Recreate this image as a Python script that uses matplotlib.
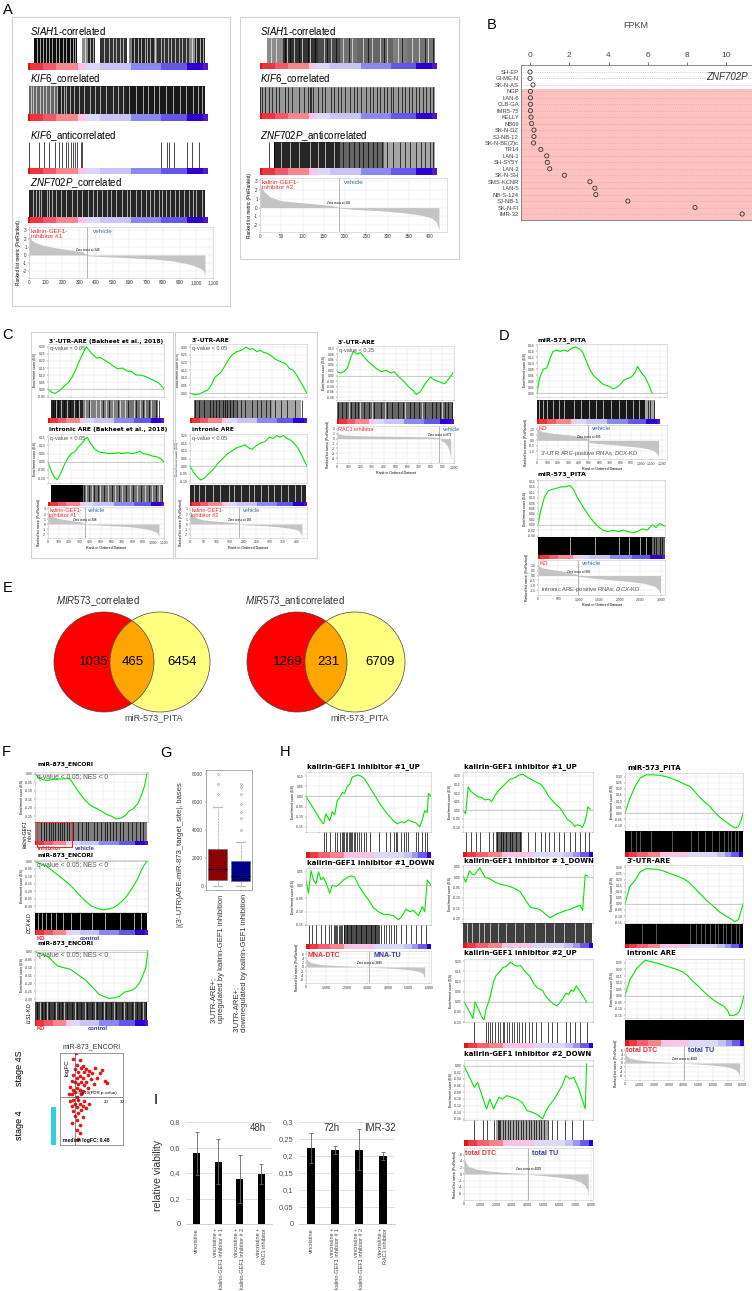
import numpy as np
import matplotlib.pyplot as plt
from matplotlib.patches import Rectangle, Circle

plt.rcParams['font.family'] = ['Liberation Sans', 'DejaVu Sans']
plt.rcParams['mathtext.fontset'] = 'custom'
plt.rcParams['mathtext.rm'] = 'Liberation Sans'
plt.rcParams['mathtext.it'] = 'Liberation Sans:italic'
plt.rcParams['axes.linewidth'] = 0.4

W, H = 752, 1291

################################################################################
# DATA
################################################################################
# GSEA colour ranking bar (block colours, block widths in % of the list)
GSEA_COLORS = ['#DC1414', '#EF343C', '#F35868', '#F7868E', '#FBC4E8', '#DCD8F8',
               '#C8C4F8', '#8C88F2', '#6656E8', '#2C00D2', '#5218C4']
GSEA_WIDTHS = [1.3, 7, 7.4, 12, 4.3, 7.8, 17.2, 17, 14.4, 9, 2.6]
H_COLORS = ['#DC1818', '#EF3A40', '#F36070', '#F7848C', '#FBC2E6', '#DCD8F8',
            '#C4C0F8', '#9A96F2', '#6A5AE8', '#2A00D0']
H_WIDTHS = [3.2, 6.7, 9.4, 10.7, 24, 24, 6.7, 5.3, 6.7, 3.3]

# B: ZNF702P expression
B_LINES = ['SH-EP', 'GI-ME-N', 'SK-N-AS', 'NGP', 'LAN-6', 'CLB-GA', 'IMR5-75', 'KELLY', 'NB69',
           'SK-N-DZ', 'SJ-NB-12', 'SK-N-BE(2)c', 'TR14', 'LAN-1', 'SH-SY5Y', 'LAN-2', 'SK-N-SH',
           'SMS-KCNR', 'LAN-5', 'NB-S-124', 'SJ-NB-1', 'SK-N-FI', 'IMR-32']
B_FPKM = [0.0, 0.0, 0.15, 0.02, 0.02, 0.02, 0.02, 0.05, 0.08, 0.2, 0.2, 0.18, 0.55, 0.85,
          0.88, 1.0, 1.75, 3.05, 3.3, 3.35, 4.98, 8.4, 10.8]

# barcodes: spans (start, end, darkness), white gaps, single black lines (% of list)
A1_SIAH1_SPANS = [(3, 27, 0.95), (30, 33, 0.45), (33, 37, 0.85), (40, 55, 0.8), (56, 58, 0.5),
                  (58, 70, 0.85), (70, 72, 0.5), (72, 90, 0.8), (90, 93, 0.45), (93, 99, 0.85)]
A1_SIAH1_GAPS = [4.5, 6, 8, 9.5, 11, 13, 15, 17, 19, 21, 23, 24.5, 26, 28.5, 31.5, 34, 36, 38.5,
                 42, 45, 47, 49, 51, 53, 55.5, 59, 61, 63, 65, 66.5, 68, 71, 74, 76, 78, 80,
                 82, 84, 86, 88, 91.5, 94, 96, 97.5]
A1_KIF6_SPANS = [(0, 16, 0.6), (16, 55, 0.85), (55, 99, 0.9)]
A1_KIF6_GAPS = [1, 2.5, 4, 6, 8, 9.5, 12, 14, 16, 18, 19.5, 21, 23, 25, 28, 31, 34, 37, 40, 43,
                47, 50, 53, 56, 60, 64, 67, 70, 73, 77, 81, 85, 88, 92, 95, 97]
A1_KIF6A_LINES = [0, 5.6, 8.4, 11, 14.4, 17, 18.5, 21, 22, 23.4, 24.7, 26, 27, 29.4, 30,
                  74, 77.7, 78.5, 81.5, 89, 91.5, 95.5]
A1_ZNF_SPANS = [(0, 99, 0.85)]
A1_ZNF_GAPS = [2, 4, 5.5, 7, 10, 11.5, 13, 15, 18, 21, 24, 27, 30, 33, 36, 38, 41, 44, 46, 49,
               52, 55, 57, 60, 63, 66, 68, 70, 73, 75, 77, 79, 82, 84, 87, 90, 92, 94, 97]
A2_SIAH1_SPANS = [(4, 13, 0.45), (13, 33, 0.8), (33, 45, 0.7), (45, 55, 0.55), (55, 75, 0.6),
                  (75, 83, 0.5), (83, 99, 0.55)]
A2_SIAH1_GAPS = [6, 9, 15, 19, 24, 28, 36, 40, 47, 52, 58, 63, 68, 72, 78, 86, 90, 95]
A2_SIAH1_LINES = [14, 17, 22, 27, 31, 38, 43, 50, 61, 70, 80, 93, 98]
A2_KIF6_SPANS = [(0, 99, 0.4)]
A2_KIF6_LINES = [0, 1, 3, 5, 7, 9, 10.5, 14, 16, 18, 22, 25, 27, 28, 29, 30, 33, 35, 37, 40,
                 42, 44, 46, 48, 51, 53, 55, 57, 60, 62, 64, 66, 68, 70, 72, 74, 75, 78, 80,
                 82, 84, 86, 88, 90, 92, 94, 96, 98]
A2_ZNF_SPANS = [(8, 45, 0.85), (45, 70, 0.6), (70, 99, 0.35)]
A2_ZNF_GAPS = [12, 17, 22, 28, 33, 37, 42]
A2_ZNF_LINES = [5, 8, 47, 50, 53, 56, 58, 61, 64, 66, 69, 72, 75, 79, 82, 85, 88, 91, 93, 96, 98]

C1_UTR_SPANS = [(3, 30, 0.85), (30, 70, 0.5), (70, 95, 0.55)]
C1_UTR_GAPS = [7, 11, 16, 22, 27, 32, 36, 41, 45, 50, 56, 62, 66, 74, 79, 84, 89]
C1_UTR_LINES = [4, 6, 9, 14, 19, 25, 35, 47, 53, 60, 69, 76, 82, 87, 93, 96]
C1_INT_SPANS = [(3, 30, 1.0), (30, 99, 0.55)]
C1_INT_GAPS = [33, 38, 45, 52, 58, 64, 71, 77, 84, 90, 96]
C1_INT_LINES = [31, 35, 40, 43, 48, 55, 61, 67, 73, 80, 87, 93, 98]
C2_UTR_SPANS = [(3, 40, 0.6), (40, 70, 0.45), (70, 95, 0.35)]
C2_UTR_LINES = [4, 8, 12, 17, 20, 22, 25, 28, 30, 32, 34, 37, 40, 44, 47, 53, 57, 61, 65, 68,
                73, 78, 83, 90, 96]
C2_INT_SPANS = [(0, 99, 0.85)]
C2_INT_GAPS = [3, 8, 13, 20, 26, 33, 38, 44, 50, 55, 61, 67, 72, 78, 84, 90, 95]
C3_SPANS = [(0, 99, 0.6)]
C3_GAPS = [10, 20, 30, 41, 58, 73, 90]
C3_LINES = [1, 4, 8, 12, 15, 18, 23, 27, 32, 38, 43, 47, 52, 56, 62, 66, 70, 75, 81, 85, 88,
            92, 95, 98]
D1_SPANS = [(0, 88, 0.9), (88, 96, 0.35)]
D1_GAPS = [2, 5, 8, 13, 18, 22, 30, 36, 42, 48, 54, 60, 67, 72, 78, 83]
D1_LINES = [90, 92, 95]
D2_SPANS = [(0, 90, 1.0), (90, 100, 0.6)]
D2_GAPS = [25, 45, 64, 72, 80, 85]
D2_LINES = [91, 93, 96, 98]
F1_SPANS = [(0, 99, 0.5)]
F1_LINES = [2, 5, 8, 10, 12, 14, 16, 18, 20, 22, 24, 26, 28, 30, 34, 38, 42, 45, 47, 52, 55,
            58, 62, 64, 66, 69, 72, 75, 78, 82, 86, 89, 93, 96]
F2_SPANS = [(0, 99, 1.0)]
F2_GAPS = [3, 6, 10, 14, 19, 25, 32, 40, 50, 62, 75, 88, 94]
F3_SPANS = [(0, 99, 0.75)]
F3_GAPS = [4, 11, 19, 26, 35, 44, 53, 61, 70, 79, 88, 96]
F3_LINES = [2, 6, 9, 12, 17, 21, 24, 28, 33, 37, 41, 46, 50, 55, 59, 63, 67, 72, 77, 81, 86,
            90, 94, 98]
H1U_LINES = [14, 16, 19, 23, 25, 27, 28.5, 29.5, 30.5, 32, 33, 34, 35, 36, 37, 38, 39, 40.5,
             42, 44, 46, 48, 51, 58, 64, 67, 70, 72, 73, 76, 78, 80, 82, 88, 90, 93, 95, 97]
H1D_SPANS = [(30, 58, 0.7)]
H1D_LINES = [2, 5, 8, 12, 15, 18, 20, 22, 23, 24, 25, 26, 27, 28, 29, 30, 33, 36, 40, 44, 48,
             52, 55, 58, 60, 62, 64, 66, 68, 70, 72, 76, 80, 84, 88, 92, 96]
H2U1_SPANS = [(25, 45, 0.6)]
H2U1_LINES = [2, 6, 10, 13, 20, 23, 26, 29, 31, 33, 36, 38, 41, 44, 50, 55, 60, 63, 66, 70,
              74, 78, 82, 86, 90, 94, 97]
H2D1_SPANS = [(0, 99, 0.75)]
H2D1_GAPS = [3, 7, 12, 16, 21, 27, 33, 40, 47, 55, 63, 70, 78, 86, 93]
H2U2_LINES = [8, 17, 18.5, 20, 22, 24, 26, 28, 30, 31, 33, 35, 37, 39, 41, 43, 45, 47, 50, 53,
              56, 60, 65, 68, 72, 79, 82, 86, 90, 95]
H2D2_SPANS = [(25, 65, 0.35)]
H2D2_LINES = [8, 15, 18, 23, 26, 27, 28, 30, 32, 34, 36, 38, 40, 42, 44, 46, 48, 50, 52, 54,
              56, 58, 60, 62, 65, 68, 72, 78, 84, 92]
H3_SPANS = [(0, 100, 1.0)]
H3P_GAPS = [5, 9, 13, 22, 40, 56, 62, 68, 74, 80, 84, 87, 90, 93, 96]
H3U_GAPS = [14, 26, 55, 60, 64, 68, 72, 76, 79, 83, 86, 90, 94, 97]

# running enrichment scores (% of list, ES)
C1_UTR_ES = [(0, 0.0), (3, -0.02), (6, -0.03), (9, -0.015), (12, 0.005), (15, 0.03), (18, 0.05),
             (21, 0.09), (24, 0.14), (27, 0.2), (30, 0.25), (33, 0.3), (35, 0.28), (38, 0.25),
             (42, 0.22), (45, 0.225), (48, 0.21), (52, 0.19), (56, 0.165), (60, 0.145),
             (64, 0.15), (68, 0.13), (72, 0.125), (76, 0.1), (80, 0.1), (84, 0.09), (88, 0.075),
             (92, 0.06), (96, 0.04), (100, 0.0)]
C1_INT_ES = [(0, 0.0), (3, -0.06), (6, -0.1), (8, -0.11), (11, -0.07), (14, -0.02), (17, 0.02),
             (20, 0.05), (23, 0.06), (26, 0.09), (29, 0.11), (32, 0.14), (34, 0.15), (36, 0.12),
             (40, 0.08), (44, 0.06), (48, 0.055), (52, 0.05), (56, 0.05), (60, 0.055),
             (64, 0.05), (68, 0.055), (72, 0.05), (76, 0.055), (79, 0.065), (82, 0.05),
             (86, 0.045), (90, 0.035), (94, 0.03), (97, 0.02), (100, 0.0)]
C2_UTR_ES = [(0, 0.0), (4, -0.01), (8, -0.005), (12, 0.01), (15, 0.02), (18, 0.05), (21, 0.1),
             (24, 0.12), (27, 0.14), (30, 0.18), (33, 0.22), (36, 0.25), (40, 0.27), (44, 0.28),
             (48, 0.3), (51, 0.285), (54, 0.29), (57, 0.27), (60, 0.28), (63, 0.265),
             (66, 0.26), (70, 0.24), (73, 0.22), (76, 0.21), (79, 0.2), (82, 0.19), (85, 0.16),
             (88, 0.15), (91, 0.12), (94, 0.08), (97, 0.04), (100, 0.0)]
C2_INT_ES = [(0, 0.0), (3, -0.04), (6, -0.07), (9, -0.09), (12, -0.08), (16, -0.05), (20, -0.02),
             (24, 0.02), (28, 0.05), (32, 0.08), (36, 0.1), (40, 0.12), (44, 0.13), (47, 0.14),
             (50, 0.12), (53, 0.11), (56, 0.13), (60, 0.15), (64, 0.16), (68, 0.19), (71, 0.18),
             (74, 0.2), (77, 0.19), (80, 0.2), (83, 0.18), (86, 0.17), (89, 0.15), (92, 0.12),
             (95, 0.08), (98, 0.03), (100, 0.0)]
C3_ES = [(0, 0.015), (3, 0.01), (6, 0.015), (9, 0.03), (12, 0.07), (14, 0.09), (17, 0.08),
         (20, 0.085), (23, 0.07), (26, 0.055), (30, 0.04), (34, 0.025), (38, 0.015), (42, 0.02),
         (46, 0.01), (49, 0.015), (53, -0.005), (57, -0.02), (61, -0.04), (65, -0.055),
         (68, -0.07), (71, -0.06), (74, -0.04), (77, -0.02), (80, -0.005), (83, -0.015),
         (86, -0.02), (89, -0.025), (92, -0.03), (95, -0.015), (99, 0.01)]
D1_ES = [(0, 0.0), (2, 0.05), (5, 0.08), (8, 0.085), (11, 0.12), (13, 0.14), (16, 0.145),
         (19, 0.14), (22, 0.145), (25, 0.14), (28, 0.15), (31, 0.155), (34, 0.15), (37, 0.14),
         (40, 0.11), (43, 0.08), (46, 0.06), (50, 0.045), (54, 0.03), (58, 0.025), (62, 0.015),
         (65, 0.02), (68, 0.03), (71, 0.045), (74, 0.05), (77, 0.055), (80, 0.07), (82, 0.09),
         (85, 0.07), (88, 0.055), (91, 0.03), (94, 0.0)]
D2_ES = [(0, 0.0), (2, 0.05), (5, 0.1), (8, 0.125), (11, 0.13), (15, 0.135), (19, 0.14),
         (22, 0.14), (25, 0.145), (28, 0.13), (31, 0.1), (35, 0.07), (39, 0.04), (43, 0.015),
         (47, -0.005), (51, -0.02), (55, -0.025), (59, -0.02), (63, -0.025), (67, -0.02),
         (71, -0.025), (75, -0.03), (78, -0.025), (82, -0.015), (86, -0.02), (90, 0.0),
         (93, -0.01), (96, 0.005), (100, -0.005)]
F1_ES = [(0, 0.0), (3, -0.02), (7, -0.035), (11, -0.04), (15, -0.035), (20, -0.032), (25, -0.03),
         (30, -0.028), (32, -0.04), (36, -0.08), (40, -0.12), (45, -0.16), (50, -0.19),
         (55, -0.205), (60, -0.225), (64, -0.24), (68, -0.25), (72, -0.265), (76, -0.26),
         (80, -0.245), (83, -0.22), (87, -0.205), (91, -0.175), (94, -0.13), (97, -0.07),
         (99, 0.0)]
F2_ES = [(0, 0.0), (5, -0.015), (10, -0.03), (15, -0.06), (20, -0.09), (25, -0.12), (30, -0.15),
         (35, -0.19), (40, -0.23), (45, -0.27), (50, -0.3), (55, -0.315), (60, -0.325),
         (65, -0.32), (70, -0.31), (75, -0.28), (80, -0.245), (85, -0.19), (90, -0.13),
         (94, -0.06), (97, -0.02), (99, 0.0)]
F3_ES = [(0, 0.0), (4, -0.01), (8, -0.02), (13, -0.04), (17, -0.07), (20, -0.09), (25, -0.1),
         (31, -0.11), (35, -0.13), (40, -0.155), (45, -0.18), (49, -0.21), (53, -0.24),
         (57, -0.27), (62, -0.285), (66, -0.295), (70, -0.29), (75, -0.28), (79, -0.255),
         (82, -0.25), (87, -0.24), (90, -0.22), (93, -0.19), (96, -0.14), (98, -0.1), (100, 0.01)]
H1_UP_ES = [(0, 0.0), (4, -0.04), (8, -0.08), (12, -0.12), (14, -0.135), (16, -0.085),
            (18, -0.11), (19, -0.12), (21, -0.075), (23, -0.09), (25, -0.02), (27, -0.005),
            (29, 0.02), (31, 0.015), (33, 0.05), (35, 0.06), (37, 0.095), (39, 0.1), (41, 0.105),
            (44, 0.1), (47, 0.085), (51, 0.045), (55, 0.005), (59, -0.035), (63, -0.07),
            (67, -0.1), (70, -0.12), (73, -0.135), (76, -0.125), (79, -0.13), (82, -0.115),
            (85, -0.125), (88, -0.13), (91, -0.15), (93, -0.115), (95, -0.07), (97, -0.08),
            (98, 0.015), (100, 0.0)]
H1_DN_ES = [(0, 0.02), (2, -0.03), (4, 0.055), (6, 0.02), (8, 0.005), (10, 0.05), (12, 0.02),
            (14, 0.03), (16, 0.01), (19, -0.03), (21, 0.0), (24, -0.005), (27, 0.005),
            (30, 0.02), (33, 0.03), (36, 0.035), (39, 0.03), (42, 0.0), (46, -0.03),
            (50, -0.055), (54, -0.085), (58, -0.1), (62, -0.11), (66, -0.11), (70, -0.115),
            (74, -0.13), (77, -0.115), (80, -0.09), (83, -0.1), (86, -0.095), (90, -0.115),
            (93, -0.08), (95, -0.1), (97, 0.02), (100, 0.0)]
H2_UP1_ES = [(0, 0.0), (2, -0.02), (4, 0.135), (6, 0.11), (8, 0.1), (11, 0.08), (14, 0.075),
             (17, 0.06), (20, 0.065), (22, 0.05), (25, 0.09), (28, 0.12), (32, 0.15), (36, 0.18),
             (40, 0.19), (43, 0.205), (46, 0.21), (50, 0.19), (55, 0.17), (60, 0.15), (63, 0.12),
             (66, 0.08), (70, 0.045), (75, 0.01), (80, -0.05), (84, -0.075), (86, -0.095),
             (88, -0.085), (90, -0.09), (92, -0.1), (94, -0.06), (95, -0.03), (96, 0.02),
             (98, 0.005)]
H2_DN1_ES = [(0, 0.005), (2, -0.025), (5, 0.03), (7, 0.015), (9, 0.01), (11, 0.03), (13, 0.045),
             (15, 0.02), (17, 0.0), (21, -0.01), (25, -0.025), (29, -0.035), (33, -0.04),
             (36, -0.045), (40, -0.055), (44, -0.07), (48, -0.11), (52, -0.145), (56, -0.15),
             (59, -0.155), (63, -0.175), (67, -0.195), (71, -0.18), (75, -0.17), (79, -0.16),
             (82, -0.155), (86, -0.145), (90, -0.135), (92, -0.16), (94, 0.01), (96, 0.005)]
H2_UP2_ES = [(0, 0.0), (7, -0.083), (8.5, 0.0), (14, -0.078), (15.5, -0.09), (17, -0.04),
             (20, 0.017), (23, 0.1), (25, 0.13), (28, 0.15), (30, 0.167), (33, 0.175),
             (36, 0.195), (39, 0.18), (41, 0.175), (44, 0.178), (47, 0.15), (51, 0.125),
             (54, 0.09), (57, 0.067), (61, 0.055), (63, 0.03), (66, 0.008), (69, -0.01),
             (72, -0.02), (74, -0.008), (77, 0.02), (79, 0.042), (81, 0.035), (83, 0.058),
             (85, 0.05), (87, 0.078), (90, 0.05), (95, 0.0)]
H2_DN2_ES = [(0, 0.0), (8, -0.065), (10.5, -0.05), (14, -0.09), (17.5, -0.13), (20, -0.1),
             (23, -0.13), (27, -0.095), (30, -0.1), (33, -0.09), (37, -0.095), (41, -0.1),
             (45, -0.11), (49, -0.135), (53, -0.14), (56, -0.145), (58, -0.15), (61, -0.16),
             (63, -0.14), (66, -0.12), (70, -0.1), (73, -0.08), (76, -0.06), (79, -0.03),
             (82, -0.04), (85, -0.035), (89, -0.07), (94, -0.13), (95, 0.005)]
H3_PITA_ES = [(0, 0.0), (4, 0.12), (8.5, 0.22), (13, 0.29), (18, 0.315), (24, 0.315), (30, 0.31),
              (35, 0.3), (41, 0.28), (46, 0.26), (50, 0.24), (55, 0.22), (59, 0.18), (63, 0.135),
              (67, 0.095), (72, 0.055), (76, 0.01), (80, -0.03), (85, -0.065), (89, -0.095),
              (93, -0.12), (96, -0.11), (98.5, -0.055), (100, 0.0)]
H3_UTR_ES = [(0, 0.0), (4, 0.14), (8.5, 0.195), (13, 0.265), (18, 0.29), (27, 0.285), (33, 0.27),
             (38, 0.25), (44, 0.23), (49, 0.21), (54, 0.18), (58, 0.14), (63, 0.09), (69, 0.03),
             (75, -0.02), (80, -0.065), (85, -0.095), (89, -0.12), (93, -0.145), (96, -0.13),
             (98, -0.07), (100, 0.0)]
H3_INT_ES = [(0, 0.0), (4, 0.12), (10, 0.21), (17, 0.27), (24, 0.255), (30, 0.24), (35, 0.225),
             (42, 0.205), (49, 0.18), (53, 0.15), (57, 0.11), (62, 0.07), (66, 0.033), (70, 0.0),
             (74, -0.03), (79, -0.06), (83, -0.08), (86, -0.11), (88, -0.15), (91, -0.15),
             (94, -0.14), (96, -0.12), (98, -0.07), (100, 0.0)]

# ranked list metrics (rank, metric)
RANK_1050 = [(0, 3.0), (5, 2.2), (15, 1.8), (40, 1.5), (80, 1.2), (150, 0.9), (250, 0.6),
             (320, 0.4), (345, 0.05), (350, -0.1), (450, -0.2), (600, -0.35), (750, -0.5),
             (850, -0.7), (930, -1.0), (990, -1.3), (1030, -1.7), (1045, -2.0), (1052, -2.6)]
RANK_420 = [(0, 3.0), (3, 2.3), (10, 1.8), (25, 1.2), (50, 0.8), (100, 0.55), (150, 0.35),
            (180, 0.15), (185, -0.05), (220, -0.2), (280, -0.35), (330, -0.55), (370, -0.8),
            (400, -1.1), (412, -1.5), (418, -2.0), (421, -2.6)]
RANK_RAC1 = [(0, 1.8), (10, 1.0), (60, 0.75), (200, 0.6), (400, 0.5), (600, 0.45), (800, 0.35),
             (870, 0.2), (880, 0.0), (885, -0.3), (920, -0.8), (945, -1.5), (960, -2.5),
             (968, -3.5), (972, -4.6)]
RANK_D1 = [(0, 1.2), (10, 1.0), (50, 0.8), (150, 0.65), (300, 0.5), (420, 0.35), (480, 0.2),
           (495, 0.0), (500, -0.2), (600, -0.3), (750, -0.4), (900, -0.55), (1000, -0.65),
           (1080, -0.8), (1130, -1.0), (1160, -1.3), (1170, -1.6)]
RANK_D2 = [(0, 1.4), (20, 1.0), (100, 0.8), (300, 0.65), (600, 0.45), (900, 0.2), (980, 0.05),
           (1000, -0.1), (1300, -0.25), (1700, -0.4), (2200, -0.6), (2600, -0.8), (2850, -1.1),
           (2950, -1.5), (2990, -1.9)]
RANK_MNA = [(0, 6.0), (20, 4.0), (80, 3.0), (250, 2.0), (700, 1.2), (1500, 0.7), (2500, 0.3),
            (3000, 0.1), (3095, 0.0), (3200, -0.15), (3800, -0.4), (4500, -0.8), (5100, -1.3),
            (5500, -2.0), (5700, -3.0), (5760, -4.5), (5790, -6.5)]
RANK_TOTAL = [(0, 7.0), (30, 5.0), (100, 3.5), (300, 2.3), (800, 1.5), (1600, 0.9), (2600, 0.5),
              (3500, 0.2), (4029, 0.0), (4100, -0.15), (5000, -0.5), (6000, -1.0), (6800, -1.6),
              (7300, -2.4), (7600, -3.5), (7750, -5.0), (7800, -7.0)]

# E: Venn counts (only set 1, overlap, only set 2)
VENN_COR = [1035, 465, 6454]
VENN_ANTI = [1269, 231, 6709]

# F: volcano-like scatter (-log10 FDR, logFC)
F_SCATTER = [(-4, 0.2), (-3, 0.7), (-3, -0.3), (-2, 1.1), (-2, 0.2), (-2, -0.6), (-1, 1.5),
             (-1, 0.5), (-1, -0.2), (-1, -1.0), (0, 1.9), (0, 1.0), (0, 0.3), (0, -0.5),
             (0, -1.3), (1, 2.2), (1, 1.3), (1, 0.6), (1, 0.0), (1, -0.7), (1, -1.6), (2, 1.7),
             (2, 0.9), (2, -0.2), (2, -1.1), (3, 2.5), (3, 1.4), (3, 0.5), (3, -0.5), (3, -1.9),
             (4, 2.0), (4, 1.0), (4, 0.2), (4, -0.9), (5, 2.1), (5, 1.3), (5, 0.4), (5, -0.6),
             (5, -1.4), (6, 1.7), (6, 0.8), (6, -0.3), (7, 1.9), (7, 1.0), (7, -0.8), (8, 1.5),
             (8, 0.6), (9, 1.8), (9, -0.5), (10, 1.2), (11, 1.6), (12, 0.9), (13, 2.0),
             (14, 1.3), (16, 1.6), (17, 1.85), (19, 1.1), (20.6, 0.96), (3, -2.5), (1, -2.3),
             (-1, 2.6), (0.5, 3.0), (2, -2.9), (-2, -1.8)]

# G: box plot statistics (bases)
G_LABELS = ["3'UTR-ARE+;\nupregulated by kalirin-GEF1 inhibition",
            "3'UTR-ARE+;\ndownregulated by kalirin-GEF1 inhibition"]
G_MED = [1200, 710]
G_Q1 = [430, 380]
G_Q3 = [2640, 1780]
G_LOW = [0, 0]
G_HIGH = [5640, 3140]
G_FLIERS = [[6550, 7300, 8000], [4000, 4850, 5250, 5850, 6600, 7100, 7250]]
G_COLORS = ['#8B0000', '#00008B']

# I: relative viability
I_LABELS = ['vincristine', 'vincristine +\nkalirin-GEF1 inhibitor # 1',
            'vincristine +\nkalirin-GEF1 inhibitor # 2', 'vincristine +\nRAC1 inhibitor']
I_48H = [0.555, 0.49, 0.355, 0.39]
I_48H_ERR = [0.17, 0.178, 0.19, 0.08]
I_72H = [0.224, 0.218, 0.219, 0.2]
I_72H_ERR = [0.045, 0.012, 0.06, 0.011]

RED = '#E8312F'
BLUE = '#3A6FA8'
NAVY = '#2E3A9E'

################################################################################
# HELPERS
################################################################################
fig = plt.figure(figsize=(W / 100, H / 100), dpi=100)


def axes_px(x0, y0, x1, y1):
    return fig.add_axes([x0 / W, 1 - y1 / H, (x1 - x0) / W, (y1 - y0) / H])


def text_px(x, y, s, **kw):
    kw.setdefault('va', 'center')
    kw.setdefault('ha', 'left')
    fig.text(x / W, 1 - y / H, s, **kw)


def frame_px(x0, y0, x1, y1, color='#D2D2D2', lw=0.8):
    fig.patches.append(Rectangle((x0 / W, 1 - y1 / H), (x1 - x0) / W, (y1 - y0) / H,
                                 transform=fig.transFigure, fill=False, ec=color, lw=lw))


def gsea_title(x, y, s, size=4.6):
    text_px(x, y, s, fontsize=size, fontweight='bold', family='DejaVu Sans')


def es_panel(rect, curve, ylim, yticks, xmax=100, note=None, note_size=4.5):
    ax = axes_px(*rect)
    xs, ys = zip(*curve)
    ax.plot(xs, ys, color='#00E800', lw=0.8)
    ax.axhline(0, color='#AAAAAA', lw=0.4)
    ax.set_xlim(0, xmax)
    ax.set_ylim(*ylim)
    ax.set_yticks(yticks)
    ax.set_yticklabels(['{:.2f}'.format(t) for t in yticks])
    ax.set_xticks(range(0, 101, 10))
    ax.tick_params(labelbottom=False, labelsize=2.4, length=0.8, width=0.3, pad=0.8,
                   colors='#333333')
    ax.grid(color='#E6E6E6', lw=0.35)
    ax.set_axisbelow(True)
    for sp in ax.spines.values():
        sp.set_color('#C8C8C8')
        sp.set_linewidth(0.4)
    ax.set_ylabel('Enrichment score (ES)', fontsize=2.4, labelpad=1)
    if note:
        ax.text(0.02, 0.96, note, transform=ax.transAxes, fontsize=note_size, va='top',
                color='#555555')
    return ax


def barcode(rect, spans=(), gaps=(), lines=(), gap_color='white'):
    ax = axes_px(*rect)
    for a, b, shade in spans:
        ax.axvspan(a, b, color='black', alpha=shade, lw=0)
    if len(gaps):
        ax.vlines(gaps, 0, 1, color=gap_color, lw=0.45)
    if len(lines):
        ax.vlines(lines, 0, 1, color='black', lw=0.5)
    ax.set_xlim(0, 100)
    ax.set_ylim(0, 1)
    ax.axis('off')


def rank_bar(rect, colors=GSEA_COLORS, widths=GSEA_WIDTHS):
    ax = axes_px(*rect)
    left = np.cumsum([0] + list(widths[:-1]))
    ax.barh(0, widths, left=left, color=colors, height=1, lw=0)
    ax.set_xlim(0, sum(widths))
    ax.set_ylim(-0.5, 0.5)
    ax.axis('off')


def ranked_panel(rect, curve, xmax, xticks, ylim, yticks, zero, left, right, size=4.5,
                 bold=False, right_color=BLUE, xlabel=False, note=None, tick_size=2.6,
                 label_size=2.6, yfmt='{:g}'):
    ax = axes_px(*rect)
    xs, ys = zip(*curve)
    ax.fill_between(xs, ys, 0, color='#C4C4C4', lw=0)
    ax.axvline(zero, color='#999999', lw=0.5)
    ax.text(zero, 0.1 * ylim[1], 'Zero cross at {}'.format(zero), fontsize=2.2, ha='center',
            va='bottom')
    ax.set_xlim(0, xmax)
    ax.set_ylim(*ylim)
    ax.set_xticks(xticks)
    ax.set_xticklabels(['{:,}'.format(t) for t in xticks])
    ax.set_yticks(yticks)
    ax.set_yticklabels([yfmt.format(t) for t in yticks])
    ax.tick_params(labelsize=tick_size, length=0.8, width=0.3, pad=0.8, colors='#333333')
    ax.grid(color='#E6E6E6', lw=0.35)
    ax.set_axisbelow(True)
    for sp in ax.spines.values():
        sp.set_color('#C8C8C8')
        sp.set_linewidth(0.4)
    ax.set_ylabel('Ranked list metric (PreRanked)', fontsize=label_size, labelpad=1)
    wt = 'bold' if bold else 'normal'
    ax.text(0.01, 0.97, left, transform=ax.transAxes, fontsize=size, va='top', color=RED,
            fontweight=wt, linespacing=1.0)
    ax.text(zero + 0.03 * xmax, ylim[1] - 0.03 * (ylim[1] - ylim[0]), right, fontsize=size,
            va='top', color=right_color, fontweight=wt)
    if xlabel:
        ax.set_xlabel('Rank in Ordered Dataset', fontsize=2.6, labelpad=1)
    if note:
        ax.text(0.02, 0.04, note, transform=ax.transAxes, fontsize=4.2, va='bottom',
                color='#555555')
    return ax


################################################################################
# A
################################################################################
text_px(3, 10, 'A', fontsize=10.5)
frame_px(12, 17, 230, 306)
frame_px(240, 17, 459, 259)

text_px(30, 31, r'$\mathit{SIAH1}$-correlated', fontsize=7)
barcode((29, 38, 207, 63), A1_SIAH1_SPANS, A1_SIAH1_GAPS)
rank_bar((28, 63, 208, 70))
text_px(30, 79, r'$\mathit{KIF6}$_correlated', fontsize=7)
barcode((29, 86, 207, 114), A1_KIF6_SPANS, A1_KIF6_GAPS)
rank_bar((28, 114, 208, 121))
text_px(30, 136, r'$\mathit{KIF6}$_anticorrelated', fontsize=7)
barcode((29, 142, 207, 168), lines=A1_KIF6A_LINES)
rank_bar((28, 168, 208, 174))
text_px(30, 183, r'$\mathit{ZNF702P}$_correlated', fontsize=7)
barcode((29, 190, 207, 217), A1_ZNF_SPANS, A1_ZNF_GAPS)
rank_bar((28, 217, 208, 223))
ranked_panel((29, 227, 213, 278), RANK_1050, 1100, list(range(0, 1101, 100)), (-2.8, 3.4),
             [-2, -1, 0, 1, 2, 3], 348, 'kalirin-GEF1-\ninhibitor #1', 'vehicle', size=4.6,
             tick_size=3.3, label_size=3.3)

text_px(260, 31, r'$\mathit{SIAH1}$-correlated', fontsize=7)
barcode((260, 38, 437, 63), A2_SIAH1_SPANS, A2_SIAH1_GAPS, A2_SIAH1_LINES)
rank_bar((260, 63, 437, 69))
text_px(260, 79, r'$\mathit{KIF6}$_correlated', fontsize=7)
barcode((260, 87, 437, 113), A2_KIF6_SPANS, lines=A2_KIF6_LINES)
rank_bar((260, 113, 437, 119))
text_px(260, 136, r'$\mathit{ZNF702P}$_anticorrelated', fontsize=7)
barcode((260, 142, 437, 168), A2_ZNF_SPANS, A2_ZNF_GAPS, A2_ZNF_LINES)
rank_bar((260, 168, 437, 175))
ranked_panel((260, 178, 447, 232), RANK_420, 440, list(range(0, 401, 50)), (-2.8, 3.4),
             [-2, -1, 0, 1, 2, 3], 185, 'kalirin-GEF1-\ninhibitor #2', 'vehicle', size=4.6,
             tick_size=3.3, label_size=3.3)

################################################################################
# B
################################################################################
text_px(487, 25, 'B', fontsize=10.5)
text_px(636, 26, 'FPKM', fontsize=6.5, ha='center', color='#444444')
ax = axes_px(521, 65, 752, 220)
rows = np.arange(len(B_LINES))
ax.axhspan(2.6, 23.5, color='#FFC0C0', lw=0)
ax.hlines(rows, -1, 12, colors='#B0B0B0', linestyles=':', lw=0.5)
ax.scatter(B_FPKM, rows, s=9, facecolors='none', edgecolors='#333333', lw=0.6, zorder=3)
ax.set_xlim(-0.46, 11.3)
ax.set_ylim(22.93, -1.08)
ax.xaxis.tick_top()
ax.set_xticks([0, 2, 4, 6, 8, 10])
ax.set_yticks(rows)
ax.set_yticklabels(B_LINES)
ax.tick_params(axis='x', labelsize=6, colors='#444444', length=2.5, width=0.5, pad=2)
ax.tick_params(axis='y', labelsize=4.2, colors='#444444', length=0, pad=1.5)
for sp in ax.spines.values():
    sp.set_color('#777777')
    sp.set_linewidth(0.6)
ax.text(0.98, 0.92, 'ZNF702P', transform=ax.transAxes, fontsize=7, style='italic',
        ha='right', va='center', color='#333333')

################################################################################
# C
################################################################################
text_px(2, 335, 'C', fontsize=10.5)
frame_px(31, 332, 173, 558)
frame_px(175, 332, 317, 558)

gsea_title(49, 341, "3'-UTR-ARE (Bakheet et al., 2018)", 4.3)
es_panel((48, 344, 164, 397), C1_UTR_ES, (-0.055, 0.32),
         [-0.05, 0.0, 0.05, 0.1, 0.15, 0.2, 0.25, 0.3], note='q-value < 0.05', note_size=4)
barcode((48, 400, 164, 418), C1_UTR_SPANS, C1_UTR_GAPS, C1_UTR_LINES)
rank_bar((48, 418, 164, 423))
gsea_title(49, 430, "intronic ARE (Bakheet et al., 2018)", 4.3)
es_panel((48, 434, 164, 483), C1_INT_ES, (-0.13, 0.17), [-0.1, -0.05, 0.0, 0.05, 0.1, 0.15],
         note='q-value < 0.05', note_size=4)
barcode((48, 485, 164, 502), C1_INT_SPANS, C1_INT_GAPS, C1_INT_LINES)
rank_bar((48, 502, 164, 506))
ranked_panel((48, 507, 164, 538), RANK_1050, 1100, list(range(0, 1101, 100)), (-2.8, 3.4),
             [-2, -1, 0, 1, 2, 3], 348, 'kalirin-GEF1-\ninhibitor #1', 'vehicle', size=4,
             tick_size=2.4, label_size=2.4, xlabel=True)

gsea_title(192, 341, "3'-UTR-ARE", 4.3)
es_panel((190, 344, 307, 397), C2_UTR_ES, (-0.025, 0.32),
         [0.0, 0.05, 0.1, 0.15, 0.2, 0.25, 0.3], note='q-value < 0.05', note_size=4)
barcode((190, 400, 307, 418), C2_UTR_SPANS, lines=C2_UTR_LINES)
rank_bar((190, 418, 307, 423))
gsea_title(192, 430, 'intronic ARE', 4.3)
es_panel((190, 434, 307, 483), C2_INT_ES, (-0.11, 0.21),
         [-0.1, -0.05, 0.0, 0.05, 0.1, 0.15, 0.2], note='q-value < 0.05', note_size=4)
barcode((190, 485, 307, 502), C2_INT_SPANS, C2_INT_GAPS)
rank_bar((190, 502, 307, 506))
ranked_panel((190, 507, 307, 538), RANK_420, 440, list(range(0, 401, 50)), (-2.8, 3.4),
             [-2, -1, 0, 1, 2, 3], 185, 'kalirin-GEF1-\ninhibitor #2', 'vehicle', size=4,
             tick_size=2.4, label_size=2.4, xlabel=True)

gsea_title(338, 342, "3'-UTR-ARE", 4.3)
es_panel((337, 346, 454, 400), C3_ES, (-0.09, 0.11),
         [-0.08, -0.06, -0.04, -0.02, 0.0, 0.02, 0.04, 0.06, 0.08, 0.1],
         note='q-value < 0.25', note_size=4)
barcode((337, 402, 454, 419), C3_SPANS, C3_GAPS, C3_LINES)
rank_bar((337, 419, 454, 424))
ranked_panel((337, 426, 454, 463), RANK_RAC1, 1000, list(range(0, 1001, 100)), (-5.0, 2.6),
             [-4, -3, -2, -1, 0, 1, 2], 873, 'RAC1 inhibitor', 'vehicle', size=4,
             tick_size=2.4, label_size=2.4, xlabel=True)

################################################################################
# D
################################################################################
text_px(499, 336, 'D', fontsize=10.5)
gsea_title(538, 340, 'miR-573_PITA', 4.6)
es_panel((537, 344, 667, 397), D1_ES, (-0.012, 0.165),
         [0.0, 0.02, 0.04, 0.06, 0.08, 0.1, 0.12, 0.14, 0.16], xmax=106)
barcode((537, 400, 660, 419), D1_SPANS, D1_GAPS, D1_LINES)
rank_bar((537, 419, 660, 424))
ranked_panel((537, 425, 667, 459), RANK_D1, 1250, list(range(0, 1201, 100)), (-1.7, 1.4),
             [-1.0, -0.5, 0.0, 0.5, 1.0], 495, 'KD', 'vehicle', size=4.5, tick_size=2.4,
             label_size=2.4, xlabel=True, yfmt='{:.1f}',
             note=r"3'-UTR ARE-positive RNAs; $\mathit{DCX}$-KD")

gsea_title(538, 474, 'miR-573_PITA', 4.6)
es_panel((538, 480, 665, 537), D2_ES, (-0.045, 0.165),
         [-0.04, -0.02, 0.0, 0.02, 0.04, 0.06, 0.08, 0.1, 0.12, 0.14, 0.16])
barcode((538, 537, 665, 555), D2_SPANS, D2_GAPS, D2_LINES)
rank_bar((538, 555, 665, 559))
ranked_panel((538, 560, 665, 595), RANK_D2, 3100, list(range(0, 3001, 500)), (-2.0, 1.6),
             [-1.5, -1.0, -0.5, 0.0, 0.5, 1.0], 985, 'KD', 'vehicle', size=4.5, tick_size=2.4,
             label_size=2.4, xlabel=True, yfmt='{:.1f}',
             note=r"intronic ARE-positive RNAs; $\mathit{DCX}$-KD")

################################################################################
# E
################################################################################
text_px(3, 588, 'E', fontsize=10.5)
ax = axes_px(0, 595, 460, 725)
ax.set_xlim(0, 460)
ax.set_ylim(725, 595)
ax.axis('off')
venns = [((104, 160), VENN_COR, 'correlated', (94, 133, 182), 98, 154),
         ((297, 355), VENN_ANTI, 'anticorrelated', (288, 328, 380), 295, 360)]
for (cx_red, cx_yel), counts, title, lab_x, title_x, pita_x in venns:
    red = Circle((cx_red, 662), 50, fc='#FF0000', ec='none')
    yel = Circle((cx_yel, 662), 50, fc='#FFFF80', ec='none')
    ax.add_patch(red)
    ax.add_patch(yel)
    inter = Circle((cx_red, 662), 50, fc='#FFA500', ec='none')
    ax.add_patch(inter)
    inter.set_clip_path(yel)
    ax.add_patch(Circle((cx_red, 662), 50, fill=False, ec='#444444', lw=0.5))
    ax.add_patch(Circle((cx_yel, 662), 50, fill=False, ec='#444444', lw=0.5))
    for x, n in zip(lab_x, counts):
        ax.text(x, 662, str(n), fontsize=9.5, ha='center', va='center')
    text_px(title_x, 601, r'$\mathit{MIR573}$_' + title, fontsize=7, ha='center',
            color='#333333')
    text_px(pita_x, 718, 'miR-573_PITA', fontsize=6.5, ha='center', color='#444444')

################################################################################
# F
################################################################################
text_px(2, 752, 'F', fontsize=10.5)
note_f = 'q-value < 0.05; NES < 0'
gsea_title(37, 764, 'miR-873_ENCORI', 4.3)
es_panel((35, 772, 148, 822), F1_ES, (-0.283, 0.01), [-0.25, -0.2, -0.15, -0.1, -0.05, 0.0],
         note=note_f, note_size=4.8)
barcode((35, 822, 148, 841), F1_SPANS, lines=F1_LINES)
rank_bar((35, 841, 148, 845))
frame_px(37, 822, 72, 847, color='#E03030', lw=0.8)
text_px(38, 849, 'inhibitor', fontsize=4.2, color=RED, fontweight='bold')
text_px(75, 849, 'vehicle', fontsize=4.2, color=NAVY, fontweight='bold')
text_px(28, 834, 'kalirin-GEF1\ninh.#1', fontsize=3.6, rotation=90, ha='center',
        style='italic', linespacing=1.0)

gsea_title(37, 855, 'miR-873_ENCORI', 4.3)
es_panel((35, 860, 148, 912), F2_ES, (-0.34, 0.01),
         [-0.3, -0.25, -0.2, -0.15, -0.1, -0.05, 0.0], note=note_f, note_size=4.8)
barcode((35, 913, 148, 930), F2_SPANS, F2_GAPS)
rank_bar((35, 930, 148, 935))
text_px(37, 938, 'KD', fontsize=4.2, color=RED, fontweight='bold')
text_px(80, 938, 'control', fontsize=4.2, color=NAVY, fontweight='bold')
text_px(29, 923, r'$\mathit{DCX}$-KD', fontsize=3.8, rotation=90, ha='center')

gsea_title(37, 943, 'miR-873_ENCORI', 4.3)
es_panel((35, 950, 148, 1001), F3_ES, (-0.31, 0.01),
         [-0.3, -0.25, -0.2, -0.15, -0.1, -0.05, 0.0], note=note_f, note_size=4.8)
barcode((35, 1002, 148, 1020), F3_SPANS, F3_GAPS, F3_LINES)
rank_bar((35, 1020, 148, 1026))
text_px(37, 1029, 'KD', fontsize=4.2, color=RED, fontweight='bold')
text_px(88, 1029, 'control', fontsize=4.2, color=NAVY, fontweight='bold')
text_px(29, 1013, r'$\mathit{LIS1}$-KD', fontsize=3.8, rotation=90, ha='center')

text_px(92, 1047, 'miR-873_ENCORI', fontsize=5, ha='center', color='#333333')
ax = axes_px(60, 1053, 123, 1145)
sx, sy = zip(*F_SCATTER)
ax.scatter(sx, sy, s=7, color='#E00000', lw=0, alpha=0.9)
ax.axhline(0, color='#333333', lw=0.4)
ax.axvline(0, color='#333333', lw=0.4)
ax.set_xlim(-9.5, 30.5)
ax.set_ylim(-3.3, 3.0)
ax.set_xticks([])
ax.set_yticks([])
for sp in ax.spines.values():
    sp.set_color('#888888')
    sp.set_linewidth(0.6)
for t in [20, 30]:
    ax.text(t, -0.2, str(t), fontsize=3.2, ha='center', va='top')
ax.text(1, 0.15, '-log10(FDR p-value)', fontsize=3.2, va='bottom')
ax.text(-5, 2.0, 'logFC', fontsize=4.5, rotation=90, ha='center', va='center')
ax.text(0.04, 0.02, 'median logFC: 0.48', transform=ax.transAxes, fontsize=3.6,
        fontweight='bold', va='bottom')
text_px(20, 1068, 'stage 4S', fontsize=6.5, rotation=90, ha='center')
text_px(20, 1125, 'stage 4', fontsize=6.5, rotation=90, ha='center')
fig.patches.append(Rectangle((51 / W, 1 - 1145 / H), 5 / W, 38 / H, transform=fig.transFigure,
                             fc='#30D0E0', ec='none'))

################################################################################
# G
################################################################################
text_px(160, 753, 'G', fontsize=10.5)
ax = axes_px(206, 770, 252, 890)
stats = [dict(med=m, q1=a, q3=b, whislo=lo, whishi=hi, fliers=fl)
         for m, a, b, lo, hi, fl in zip(G_MED, G_Q1, G_Q3, G_LOW, G_HIGH, G_FLIERS)]
bp = ax.bxp(stats, positions=[1, 2], widths=0.8, patch_artist=True,
            medianprops=dict(color='black', lw=0.7),
            whiskerprops=dict(color='#888888', ls='--', lw=0.4),
            capprops=dict(color='#BBBBBB', lw=0.9),
            flierprops=dict(marker='o', ms=1.3, mfc='none', mec='#888888', mew=0.4))
for patch, c in zip(bp['boxes'], G_COLORS):
    patch.set_facecolor(c)
    patch.set_edgecolor('#666666')
    patch.set_linewidth(0.4)
ax.set_xlim(0.5, 2.5)
ax.set_ylim(-285, 8285)
ax.set_yticks([0, 2000, 4000, 6000, 8000])
ax.set_xticks([1, 2])
ax.set_xticklabels(G_LABELS, rotation=90, fontsize=5.5, va='top', ha='center',
                   multialignment='left', color='#333333')
ax.tick_params(axis='y', labelsize=3.5, colors='#444444', length=1, width=0.3, pad=1)
ax.tick_params(axis='x', length=1, width=0.3, pad=2)
for sp in ax.spines.values():
    sp.set_color('#888888')
    sp.set_linewidth(0.5)
text_px(180, 855, "|(3'-UTR)ARE-miR-873_target_site|, bases", fontsize=5.5, rotation=90,
        ha='center', color='#333333')

################################################################################
# H
################################################################################
text_px(280, 752, 'H', fontsize=10.5)
h_t = 5.0
gsea_title(307, 767, 'kalirin-GEF1 inhibitor #1_UP', h_t)
es_panel((306, 772, 431, 832), H1_UP_ES, (-0.175, 0.12), [-0.15, -0.1, -0.05, 0.0, 0.05, 0.1])
barcode((306, 832, 431, 852), lines=H1U_LINES)
rank_bar((306, 852, 431, 858), H_COLORS, H_WIDTHS)
gsea_title(307, 863, 'kalirin-GEF1 inhibitor #1_DOWN', h_t)
es_panel((306, 868, 431, 925), H1_DN_ES, (-0.15, 0.065), [-0.15, -0.1, -0.05, 0.0, 0.05])
barcode((306, 925, 431, 944), H1D_SPANS, lines=H1D_LINES)
rank_bar((306, 944, 431, 949), H_COLORS, H_WIDTHS)
ranked_panel((306, 951, 431, 983), RANK_MNA, 6100, list(range(0, 6001, 1000)), (-7.5, 7.5),
             [-6, -4, -2, 0, 2, 4, 6], 3095, 'MNA-DTC', 'MNA-TU', size=5, bold=True,
             right_color=NAVY, tick_size=2.6, label_size=2.4)

gsea_title(464, 767, 'kalirin-GEF1 inhibitor #1_UP', h_t)
es_panel((463, 772, 593, 832), H2_UP1_ES, (-0.127, 0.223),
         [-0.1, -0.05, 0.0, 0.05, 0.1, 0.15, 0.2])
barcode((463, 832, 593, 852), H2U1_SPANS, lines=H2U1_LINES)
rank_bar((463, 852, 593, 857), H_COLORS, H_WIDTHS)
gsea_title(464, 861, 'kalirin-GEF1 inhibitor # 1_DOWN', h_t)
es_panel((463, 865, 593, 923), H2_DN1_ES, (-0.22, 0.058),
         [-0.2, -0.15, -0.1, -0.05, 0.0, 0.05])
barcode((463, 923, 593, 943), H2D1_SPANS, H2D1_GAPS)
rank_bar((463, 943, 593, 948), H_COLORS, H_WIDTHS)
gsea_title(464, 953, 'kalirin-GEF1 inhibitor #2_UP', h_t)
es_panel((464, 959, 593, 1022), H2_UP2_ES, (-0.1, 0.21),
         [-0.1, -0.05, 0.0, 0.05, 0.1, 0.15, 0.2])
barcode((464, 1022, 593, 1043), lines=H2U2_LINES)
rank_bar((464, 1043, 593, 1048), H_COLORS, H_WIDTHS)
gsea_title(464, 1054, 'kalirin-GEF1 inhibitor #2_DOWN', h_t)
es_panel((464, 1060, 593, 1120), H2_DN2_ES, (-0.163, 0.017),
         [-0.16, -0.14, -0.12, -0.1, -0.08, -0.06, -0.04, -0.02, 0.0])
barcode((464, 1120, 593, 1140), H2D2_SPANS, lines=H2D2_LINES)
rank_bar((464, 1140, 593, 1146), H_COLORS, H_WIDTHS)
ranked_panel((464, 1148, 593, 1200), RANK_TOTAL, 8100, list(range(0, 8001, 1000)), (-8, 8),
             [-6, -4, -2, 0, 2, 4, 6], 4029, 'total DTC', 'total TU', size=5, bold=True,
             right_color=NAVY, tick_size=2.6, label_size=2.4)

gsea_title(627, 768, 'miR-573_PITA', h_t)
es_panel((625, 773, 743, 831), H3_PITA_ES, (-0.145, 0.33),
         [-0.1, -0.05, 0.0, 0.05, 0.1, 0.15, 0.2, 0.25, 0.3])
barcode((625, 831, 743, 852), H3_SPANS, H3P_GAPS, gap_color='#8A8A8A')
rank_bar((625, 852, 743, 857), H_COLORS, H_WIDTHS)
gsea_title(627, 861, "3'-UTR-ARE", h_t)
es_panel((625, 865, 743, 923), H3_UTR_ES, (-0.157, 0.32),
         [-0.15, -0.1, -0.05, 0.0, 0.05, 0.1, 0.15, 0.2, 0.25, 0.3])
barcode((625, 924, 743, 944), H3_SPANS, H3U_GAPS, gap_color='#8A8A8A')
rank_bar((625, 944, 743, 948), H_COLORS, H_WIDTHS)
gsea_title(627, 953, 'intronic ARE', h_t)
es_panel((625, 959, 744, 1018), H3_INT_ES, (-0.17, 0.28),
         [-0.15, -0.1, -0.05, 0.0, 0.05, 0.1, 0.15, 0.2, 0.25])
barcode((625, 1020, 744, 1040), H3_SPANS)
rank_bar((625, 1040, 744, 1046), H_COLORS, H_WIDTHS)
ranked_panel((625, 1046, 744, 1080), RANK_TOTAL, 8100, list(range(0, 8001, 1000)), (-8, 8),
             [-6, -4, -2, 0, 2, 4, 6], 4029, 'total DTC', 'total TU', size=5, bold=True,
             right_color=NAVY, tick_size=2.6, label_size=2.4)

################################################################################
# I
################################################################################
text_px(154, 1100, 'I', fontsize=10.5)


def viability(rect, values, errors, ymax, yticks, ylabels):
    ax = axes_px(*rect)
    pos = np.arange(len(values))
    ax.bar(pos, values, width=0.33, color='black', zorder=3)
    ax.errorbar(pos, values, yerr=errors, fmt='none', ecolor='#666666', elinewidth=0.6,
                capsize=1.5, capthick=0.6, zorder=4)
    ax.set_xlim(-0.5, len(values) - 0.5)
    ax.set_ylim(0, ymax)
    ax.set_yticks(yticks)
    ax.set_yticklabels(ylabels)
    ax.yaxis.grid(color='#D9D9D9', lw=0.6)
    ax.set_axisbelow(True)
    for side in ['left', 'right', 'top']:
        ax.spines[side].set_visible(False)
    ax.spines['bottom'].set_color('#C8C8C8')
    ax.spines['bottom'].set_linewidth(0.6)
    ax.set_xticks(pos)
    ax.set_xticklabels(I_LABELS, rotation=90, fontsize=4, va='top', ha='center',
                       multialignment='right', color='#444444')
    ax.tick_params(axis='y', labelsize=5.5, colors='#555555', length=0, pad=4)
    ax.tick_params(axis='x', length=0, pad=3)
    return ax


viability((186, 1122, 272, 1224), I_48H, I_48H_ERR, 0.8, [0, 0.2, 0.4, 0.6, 0.8],
          ['0', '0,2', '0,4', '0,6', '0,8'])
viability((299, 1122, 395, 1224), I_72H, I_72H_ERR, 0.3, [0, 0.05, 0.1, 0.15, 0.2, 0.25, 0.3],
          ['0', '0,05', '0,1', '0,15', '0,2', '0,25', '0,3'])
text_px(258, 1128, '48h', fontsize=7, ha='center', color='#333333')
text_px(332, 1128, '72h', fontsize=7, ha='center', color='#333333')
text_px(380, 1128, 'IMR-32', fontsize=7, ha='center', color='#333333')
text_px(158, 1175, 'relative viability', fontsize=7.5, rotation=90, ha='center',
        color='#333333')

fig.savefig('out.png', dpi=100)
